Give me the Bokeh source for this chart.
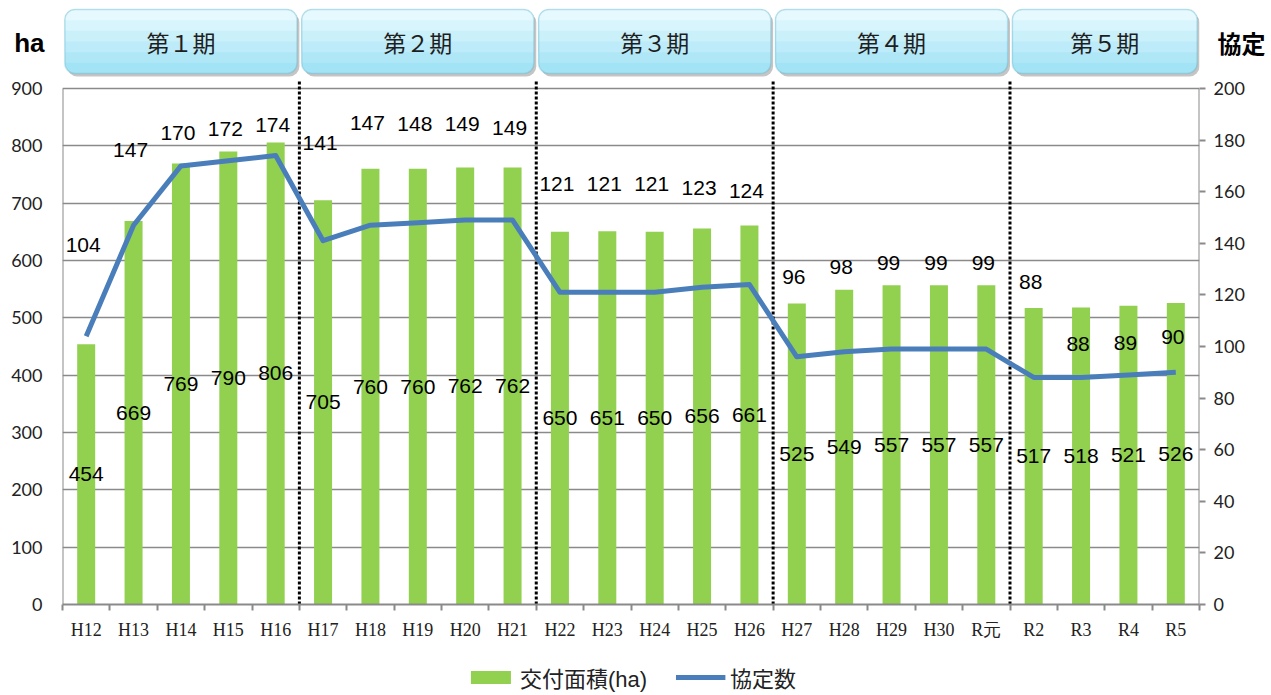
from bokeh.plotting import figure
from bokeh.models import (Range1d, LinearAxis, FixedTicker,
                          SingleIntervalTicker, ColumnDataSource, Legend, LegendItem, BoxAnnotation)
from bokeh.layouts import column
from bokeh.core.properties import value
from bokeh.embed import file_html
from bokeh.resources import INLINE

# ---------------- data ----------------
years = ["H12", "H13", "H14", "H15", "H16", "H17", "H18", "H19", "H20", "H21",
         "H22", "H23", "H24", "H25", "H26", "H27", "H28", "H29", "H30", "R元",
         "R2", "R3", "R4", "R5"]
area = [454, 669, 769, 790, 806, 705, 760, 760, 762, 762,
        650, 651, 650, 656, 661, 525, 549, 557, 557, 557,
        517, 518, 521, 526]
agreements = [104, 147, 170, 172, 174, 141, 147, 148, 149, 149,
              121, 121, 121, 123, 124, 96, 98, 99, 99, 99,
              88, 88, 89, 90]
periods = ["第１期", "第２期", "第３期", "第４期", "第５期"]
period_len = [5, 5, 5, 5, 4]
left_max, left_step = 900, 100
right_max, right_step = 200, 20
left_unit = "ha"
right_unit = "協定"

# label placement (pixel offsets of the line labels, as in the original)
line_label_dy = [-91, -75, -33, -32, -31, -98, -102, -99, -96, -92,
                 -108, -108, -108, -99, -94, -80, -85, -86, -86, -86,
                 -95, -33, -32, -35]

# ---------------- layout constants ----------------
W = 1268
B_LEFT, B_RIGHT = 62, 67
PLOT_PX = 516          # height of the 0..max area in pixels
TOP_PAD = 11           # free pixels above the max gridline (room for top tick labels)
BOTTOM_PX = 42
HEAD_H = 77
MAIN_H = PLOT_PX + TOP_PAD + BOTTOM_PX
LEG_H = 695 - HEAD_H - MAIN_H
GREEN = "#92D050"
BLUE = "#4A7EBB"
GREY = "#8A8A8A"
LAB_FONT = value("Liberation Sans")
CJK = "Noto Sans CJK JP"

stretch = (PLOT_PX + TOP_PAD) / PLOT_PX
n = len(years)
xpos = [i + 0.5 for i in range(n)]          # category centres on the x scale
bounds = []
acc = 0
for L in period_len:
    bounds.append((acc, acc + L))
    acc += L
seps = [b for a, b in bounds[:-1]]

# ---------------- header ----------------
h = figure(width=W, height=HEAD_H, output_backend="svg", toolbar_location=None,
           x_range=Range1d(0, n), y_range=Range1d(HEAD_H, 0),
           x_axis_location=None, y_axis_location="left",
           min_border_left=B_LEFT, min_border_right=B_RIGHT, min_border_top=0, min_border_bottom=0)
h.outline_line_color = None
h.grid.visible = False

unit_y = 42
hl = h.yaxis[0]
hl.ticker = FixedTicker(ticks=[unit_y])
hl.major_label_overrides = {unit_y: left_unit}
hl.axis_line_color = None
hl.major_tick_line_color = None
hl.minor_tick_line_color = None
hl.major_label_text_font = "Liberation Sans"
hl.major_label_text_font_style = "bold"
hl.major_label_text_font_size = "26px"
hl.major_label_text_color = "black"
hl.major_label_standoff = 12

hr = LinearAxis(ticker=FixedTicker(ticks=[unit_y]), major_label_overrides={unit_y: right_unit})
hr.axis_line_color = None
hr.major_tick_line_color = None
hr.minor_tick_line_color = None
hr.major_label_text_font = CJK
hr.major_label_text_font_style = "bold"
hr.major_label_text_font_size = "24px"
hr.major_label_text_color = "black"
hr.major_label_standoff = 12
h.add_layout(hr, "right")

top_c = (0xE6, 0xF9, 0xFE)
bot_c = (0xA2, 0xE3, 0xF6)
box_top, box_bot = 9, 73
inset = 0.05
steps = 6
for (a, b) in bounds:
    h.add_layout(BoxAnnotation(left=a + inset + 0.05, right=b - inset + 0.05,
                               top=box_top + 3, bottom=box_bot + 3,
                               fill_color="#7F7F7F", fill_alpha=0.45, line_color=None,
                               border_radius=10, level="underlay"))
    for k in range(steps):
        t = k / (steps - 1)
        col = "#%02x%02x%02x" % tuple(int(bot_c[i] + (top_c[i] - bot_c[i]) * t) for i in range(3))
        bb = box_bot - k * (box_bot - box_top) / steps
        rad = 10 if k == 0 else (10, 10, 0, 0)
        h.add_layout(BoxAnnotation(left=a + inset, right=b - inset, top=box_top, bottom=bb,
                                   fill_color=col, fill_alpha=1, line_color=None,
                                   border_radius=rad, level="underlay"))
    h.add_layout(BoxAnnotation(left=a + inset, right=b - inset, top=box_top, bottom=box_bot,
                               fill_color=None, line_color="#4FA9C4", line_width=1.5,
                               border_radius=10, level="underlay"))

h.text(x=[(a + b) / 2 for a, b in bounds], y=[(box_top + box_bot) / 2] * len(bounds),
       text=periods, text_align="center", text_baseline="middle",
       text_font=value(CJK), text_font_size="23px", text_color="#1e1e1e")

# ---------------- main chart ----------------
src = ColumnDataSource(dict(
    x=xpos, year=years, area=area, agr=agreements,
    area_mid=[v / 2 for v in area],
    area_txt=[str(v) for v in area],
    agr_txt=[str(v) for v in agreements],
    dy=line_label_dy,
))

p = figure(width=W, height=MAIN_H, output_backend="svg", toolbar_location=None,
           x_range=Range1d(0, n), y_range=Range1d(0, left_max * stretch),
           x_axis_location=None, y_axis_location="left",
           min_border_left=B_LEFT, min_border_right=B_RIGHT, min_border_top=0,
           min_border_bottom=BOTTOM_PX)
p.outline_line_color = None
p.xgrid.visible = False
p.ygrid.grid_line_color = GREY
p.ygrid.grid_line_width = 1.5
p.ygrid.ticker = SingleIntervalTicker(interval=left_step)

la = p.yaxis[0]
la.ticker = SingleIntervalTicker(interval=left_step)
la.axis_line_color = None
la.major_tick_line_color = None
la.minor_tick_line_color = None
la.major_label_text_font = "Lato"
la.major_label_text_font_size = "18px"
la.major_label_text_color = "#222222"
la.major_label_standoff = 14

p.extra_y_ranges = {"right": Range1d(0, right_max * stretch)}
ra = LinearAxis(y_range_name="right", ticker=SingleIntervalTicker(interval=right_step))
ra.axis_line_color = None
ra.major_tick_line_color = GREY
ra.major_tick_line_width = 2
ra.major_tick_out = 6
ra.major_tick_in = 0
ra.minor_tick_line_color = None
ra.major_label_text_font = "Lato"
ra.major_label_text_font_size = "18px"
ra.major_label_text_color = "#222222"
ra.major_label_standoff = 8
p.add_layout(ra, "right")

# vertical axis lines, ending at the top gridline
p.segment(x0=[0, n], y0=[0, 0], x1=[0, n], y1=[left_max, left_max],
          line_color=GREY, line_width=2)

# axis line + ticks at the category boundaries
ta = LinearAxis(ticker=FixedTicker(ticks=list(range(n + 1))))
ta.axis_line_color = GREY
ta.axis_line_width = 2
ta.major_tick_line_color = GREY
ta.major_tick_line_width = 2
ta.major_tick_out = 6
ta.major_tick_in = 0
ta.minor_tick_line_color = None
ta.major_label_text_font_size = "1px"
ta.major_label_text_color = None
ta.major_label_standoff = 0
p.add_layout(ta, "below")

# category names at the centres
ca = LinearAxis(ticker=FixedTicker(ticks=xpos),
                major_label_overrides={x: y for x, y in zip(xpos, years)})
ca.axis_line_color = None
ca.major_tick_line_color = None
ca.minor_tick_line_color = None
ca.major_label_text_font = "Liberation Serif"
ca.major_label_text_font_size = "18px"
ca.major_label_text_color = "#222222"
ca.major_label_standoff = 3
p.add_layout(ca, "below")

bars = p.vbar(x="x", top="area", width=0.38, source=src, fill_color=GREEN, line_color=None)
sep_top = left_max * (PLOT_PX + 8) / PLOT_PX
p.segment(x0=seps, y0=[0] * len(seps), x1=seps, y1=[sep_top] * len(seps),
          line_color="black", line_width=3, line_dash="3 2")
line = p.line(x="x", y="agr", source=src, y_range_name="right",
              line_color=BLUE, line_width=5, line_join="round")

p.text(x="x", y="area_mid", text="area_txt", source=src, text_align="center",
       text_baseline="middle", text_font=LAB_FONT, text_font_size="21px", text_color="black")
p.text(x="x", y="agr", text="agr_txt", source=src, y_range_name="right",
       y_offset="dy", x_offset=-3, text_align="center", text_baseline="middle",
       text_font=LAB_FONT, text_font_size="21px", text_color="black")

# ---------------- legend strip ----------------
g = figure(width=W, height=LEG_H, output_backend="svg", toolbar_location=None,
           x_range=Range1d(0, 1), y_range=Range1d(0, 1),
           x_axis_location=None, y_axis_location=None,
           min_border_left=B_LEFT, min_border_right=B_RIGHT, min_border_top=0, min_border_bottom=0)
g.outline_line_color = None
g.grid.visible = False
# swatch sources lie outside the strip's visible range; only the legend shows them
swatch = ColumnDataSource(dict(x=[-10, -9], y=[-10, -10]))
lb = g.vbar(x="x", top="y", width=0.38, source=swatch, fill_color=GREEN, line_color=None)
ll = g.line(x="x", y="y", source=swatch, line_color=BLUE, line_width=5)
legend = Legend(items=[LegendItem(label="交付面積(ha)", renderers=[lb]),
                       LegendItem(label="協定数", renderers=[ll])],
                orientation="horizontal", location="bottom_center")
legend.label_text_font = "Liberation Sans, Noto Sans CJK JP"
legend.label_text_font_size = "22px"
legend.label_text_color = "#222222"
legend.glyph_width = 50
legend.glyph_height = 16
legend.spacing = 28
legend.border_line_color = None
legend.background_fill_color = None
legend.margin = 2
g.add_layout(legend, "center")

layout = column(h, p, g, spacing=0)
open("out.html", "w").write(file_html(layout, INLINE))
